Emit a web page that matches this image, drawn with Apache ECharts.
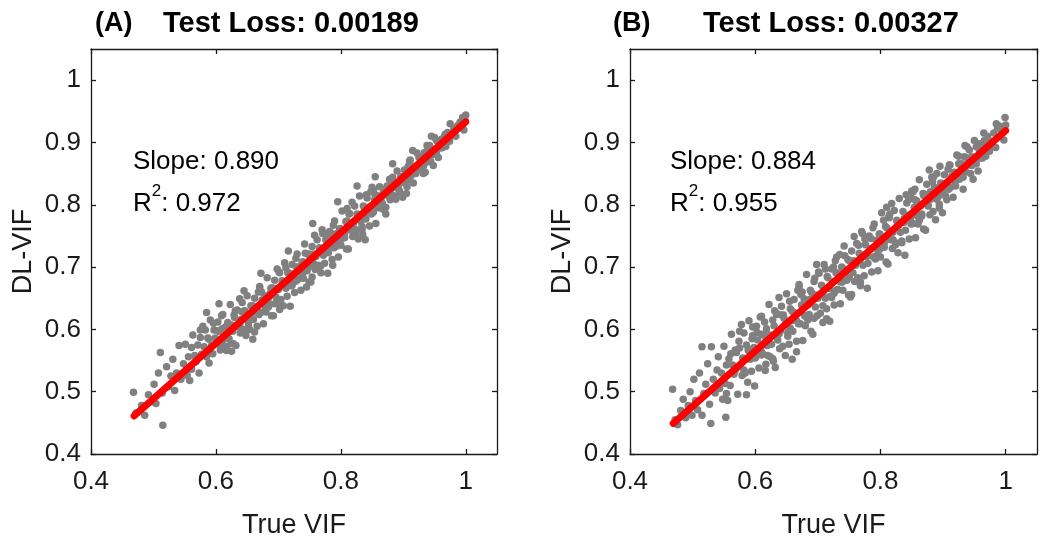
<!DOCTYPE html>
<html>
<head>
<meta charset="utf-8">
<script src="https://cdn.jsdelivr.net/npm/echarts@6/dist/echarts.min.js"></script>
<style>
html,body{margin:0;padding:0;background:#fff;}
#chart{width:1050px;height:544px;}
</style>
</head>
<body>
<div id="chart"></div>
<script>
// ---- Data ----
const panelLabels = ['(A)', '(B)'];
const testLoss = ['Test Loss: 0.00189', 'Test Loss: 0.00327'];
const slopes = ['0.890', '0.884'];
const rSquared = ['0.972', '0.955'];
const xTickValues = [0.4, 0.6, 0.8, 1];
const yTickValues = [0.4, 0.5, 0.6, 0.7, 0.8, 0.9, 1];

// Panel A: [True VIF, DL-VIF]
const scatterA = [
[0.468,0.499],[0.472,0.466],[0.481,0.478],[0.486,0.462],[0.492,0.495],[0.497,0.484],
[0.501,0.512],[0.504,0.481],[0.508,0.530],[0.511,0.563],[0.514,0.498],[0.515,0.446],
[0.521,0.540],[0.524,0.508],[0.528,0.525],[0.531,0.552],[0.534,0.502],[0.537,0.530],
[0.541,0.574],[0.544,0.520],[0.548,0.545],
[0.551,0.576],[0.553,0.536],[0.556,0.556],[0.558,0.518],
[0.561,0.536],[0.563,0.591],[0.566,0.558],[0.568,0.548],
[0.571,0.575],[0.573,0.530],[0.575,0.587],[0.577,0.560],[0.579,0.605],
[0.581,0.572],[0.583,0.599],[0.585,0.556],[0.587,0.586],[0.589,0.546],
[0.591,0.615],[0.593,0.574],[0.595,0.561],[0.597,0.599],[0.599,0.586],
[0.601,0.578],[0.603,0.612],[0.605,0.597],[0.607,0.567],[0.609,0.622],
[0.611,0.624],[0.613,0.584],[0.615,0.604],[0.617,0.566],[0.619,0.611],
[0.621,0.585],[0.623,0.640],[0.625,0.607],[0.627,0.597],[0.629,0.623],
[0.630,0.619],[0.632,0.574],[0.634,0.631],[0.636,0.604],[0.638,0.649],[0.639,0.594],
[0.640,0.616],[0.642,0.643],[0.644,0.600],[0.646,0.630],[0.648,0.590],[0.649,0.624],
[0.650,0.654],[0.652,0.613],[0.654,0.600],[0.656,0.638],[0.658,0.625],[0.659,0.584],
[0.660,0.616],[0.662,0.650],[0.664,0.635],[0.666,0.605],[0.668,0.660],[0.669,0.624],
[0.670,0.667],[0.672,0.627],[0.674,0.647],[0.676,0.609],[0.678,0.654],[0.679,0.636],
[0.680,0.628],[0.682,0.683],[0.684,0.650],[0.686,0.640],[0.688,0.666],[0.689,0.622],
[0.690,0.667],[0.692,0.622],[0.694,0.679],[0.696,0.652],[0.698,0.697],[0.699,0.642],
[0.700,0.664],[0.702,0.691],[0.704,0.648],[0.706,0.678],[0.708,0.638],[0.709,0.672],
[0.710,0.707],[0.712,0.666],[0.714,0.653],[0.716,0.691],[0.718,0.678],[0.719,0.637],
[0.720,0.670],[0.722,0.704],[0.724,0.689],[0.726,0.659],[0.728,0.714],[0.729,0.678],
[0.730,0.721],[0.732,0.681],[0.734,0.701],[0.736,0.663],[0.738,0.708],[0.739,0.690],
[0.740,0.682],[0.742,0.737],[0.744,0.704],[0.746,0.694],[0.748,0.720],[0.749,0.676],
[0.750,0.721],[0.752,0.676],[0.754,0.733],[0.756,0.706],[0.758,0.751],[0.759,0.696],
[0.760,0.717],[0.762,0.744],[0.764,0.701],[0.766,0.731],[0.768,0.691],[0.769,0.725],
[0.770,0.760],[0.772,0.719],[0.774,0.706],[0.776,0.744],[0.778,0.731],[0.779,0.690],
[0.780,0.723],[0.782,0.757],[0.784,0.742],[0.786,0.712],[0.788,0.767],[0.789,0.731],
[0.790,0.774],[0.792,0.734],[0.794,0.754],[0.796,0.716],[0.798,0.761],[0.799,0.743],
[0.800,0.735],[0.802,0.790],[0.804,0.757],[0.806,0.747],[0.808,0.773],[0.809,0.729],
[0.810,0.774],[0.812,0.729],[0.814,0.786],[0.816,0.759],[0.818,0.804],[0.819,0.749],
[0.820,0.771],[0.822,0.798],[0.824,0.755],[0.826,0.785],[0.828,0.745],[0.829,0.779],
[0.830,0.814],[0.832,0.773],[0.834,0.760],[0.836,0.798],[0.838,0.785],[0.839,0.744],
[0.840,0.777],[0.842,0.811],[0.844,0.796],[0.846,0.766],[0.848,0.821],[0.849,0.785],
[0.850,0.828],[0.852,0.788],[0.854,0.808],[0.856,0.770],[0.858,0.815],[0.859,0.797],
[0.860,0.796],[0.862,0.829],[0.864,0.809],[0.866,0.803],[0.868,0.819],[0.869,0.792],
[0.870,0.823],[0.872,0.796],[0.874,0.830],[0.876,0.814],[0.878,0.841],[0.879,0.808],
[0.880,0.825],[0.882,0.841],[0.884,0.815],[0.886,0.833],[0.888,0.809],[0.889,0.830],
[0.890,0.854],[0.892,0.830],[0.894,0.822],[0.896,0.845],[0.898,0.837],[0.899,0.812],
[0.900,0.836],[0.902,0.856],[0.904,0.847],[0.906,0.829],[0.908,0.862],[0.909,0.840],
[0.910,0.870],[0.912,0.846],[0.914,0.858],[0.916,0.835],[0.918,0.862],[0.919,0.851],
[0.920,0.850],[0.922,0.883],[0.924,0.863],[0.926,0.857],[0.928,0.873],
[0.930,0.877],[0.932,0.850],[0.934,0.884],[0.936,0.868],[0.938,0.895],
[0.940,0.879],[0.942,0.895],[0.944,0.869],[0.946,0.887],[0.948,0.863],
[0.950,0.908],[0.953,0.884],[0.956,0.876],[0.958,0.899],
[0.961,0.905],[0.963,0.892],[0.966,0.909],[0.968,0.894],
[0.971,0.916],[0.974,0.902],[0.977,0.912],
[0.981,0.922],[0.984,0.910],[0.987,0.927],
[0.991,0.933],[0.994,0.927],[0.997,0.920],
[1.000,0.944],[0.999,0.935],
[0.585,0.627],[0.605,0.641],[0.645,0.662],[0.672,0.690],[0.716,0.726],[0.755,0.770],
[0.795,0.805],[0.826,0.830],[0.855,0.845],[0.883,0.866],[0.915,0.887],[0.945,0.910],
[0.975,0.930],[0.995,0.940],[0.625,0.565],[0.662,0.596],[0.702,0.632],[0.745,0.668],
[0.787,0.703],[0.835,0.752],[0.872,0.785],[0.905,0.818],[0.935,0.852],
[0.603,0.598],[0.610,0.576],[0.617,0.596],[0.624,0.578],[0.631,0.630],[0.638,0.608],
[0.645,0.629],[0.652,0.608],[0.659,0.638],[0.666,0.630],[0.673,0.660],[0.680,0.638],
[0.687,0.658],[0.694,0.641],[0.701,0.692],[0.708,0.670],[0.715,0.691],[0.722,0.671],
[0.729,0.700],[0.736,0.692],[0.743,0.722],[0.750,0.701],[0.757,0.721],[0.764,0.703],
[0.771,0.754],[0.778,0.732],[0.785,0.754],[0.792,0.733],[0.799,0.762],[0.806,0.754],
[0.813,0.785],[0.820,0.763],[0.827,0.783],[0.834,0.765],[0.841,0.816],[0.848,0.795],
[0.855,0.816],[0.862,0.795],[0.869,0.824],[0.876,0.817],[0.883,0.844],[0.890,0.827],
[0.897,0.845],[0.904,0.834],[0.911,0.872],[0.918,0.857],[0.925,0.876],[0.932,0.862],
[0.939,0.887],[0.946,0.880],[0.953,0.903],[0.960,0.891],[0.967,0.913],[0.974,0.906],
[0.554,0.526],[0.561,0.571],[0.568,0.555],[0.575,0.599],[0.582,0.560],[0.589,0.584],
[0.596,0.610],[0.603,0.577],[0.610,0.601],[0.617,0.572],[0.628,0.577],[0.642,0.628],
[0.656,0.619],[0.670,0.669],[0.684,0.636],[0.698,0.666],[0.712,0.699],[0.726,0.677],
[0.740,0.708],[0.754,0.684],[0.768,0.702],[0.782,0.753],[0.796,0.743],[0.810,0.794],
[0.824,0.760],[0.838,0.791],[0.852,0.823],[0.866,0.802],[0.880,0.832],[0.894,0.819]
];

// Panel B: [True VIF, DL-VIF]
const scatterB = [
[0.468,0.504],[0.472,0.455],[0.476,0.447],[0.481,0.470],[0.485,0.488],[0.489,0.458],
[0.493,0.478],[0.496,0.500],[0.499,0.462],[0.502,0.520],[0.505,0.486],[0.508,0.471],
[0.511,0.530],[0.515,0.572],[0.515,0.462],[0.518,0.497],
[0.521,0.512],[0.524,0.545],[0.527,0.480],[0.529,0.449],
[0.530,0.572],[0.533,0.520],[0.536,0.498],[0.539,0.535],
[0.541,0.556],[0.543,0.505],[0.546,0.530],[0.548,0.488],
[0.550,0.573],[0.552,0.513],[0.554,0.543],[0.556,0.486],[0.558,0.553],[0.553,0.459],
[0.560,0.510],[0.562,0.592],[0.564,0.543],[0.566,0.528],[0.568,0.567],
[0.570,0.563],[0.572,0.496],[0.574,0.581],[0.576,0.540],[0.578,0.608],[0.579,0.526],
[0.580,0.554],[0.582,0.594],[0.584,0.530],[0.586,0.575],[0.588,0.515],[0.589,0.566],[0.586,0.495],
[0.590,0.614],[0.592,0.552],[0.594,0.533],[0.596,0.590],[0.598,0.571],[0.599,0.509],
[0.600,0.554],[0.602,0.605],[0.604,0.583],[0.606,0.538],[0.608,0.620],[0.609,0.566],
[0.610,0.621],[0.612,0.561],[0.614,0.591],[0.616,0.534],[0.618,0.601],[0.619,0.574],
[0.620,0.558],[0.622,0.640],[0.624,0.591],[0.626,0.576],[0.628,0.615],[0.629,0.549],
[0.630,0.606],[0.632,0.539],[0.634,0.624],[0.636,0.583],[0.638,0.651],[0.639,0.569],
[0.640,0.597],[0.642,0.637],[0.644,0.573],[0.646,0.618],[0.648,0.558],[0.649,0.609],
[0.650,0.657],[0.652,0.595],[0.654,0.576],[0.656,0.633],[0.658,0.614],[0.659,0.552],
[0.660,0.597],[0.662,0.648],[0.664,0.626],[0.666,0.581],[0.668,0.663],[0.669,0.609],[0.666,0.564],
[0.670,0.669],[0.672,0.609],[0.674,0.639],[0.676,0.582],[0.678,0.649],[0.679,0.622],
[0.680,0.606],[0.682,0.688],[0.684,0.639],[0.686,0.624],[0.688,0.663],[0.689,0.597],
[0.690,0.659],[0.692,0.592],[0.694,0.677],[0.696,0.636],[0.698,0.704],[0.699,0.622],
[0.700,0.650],[0.702,0.690],[0.704,0.626],[0.706,0.671],[0.708,0.611],[0.709,0.662],[0.708,0.638],
[0.710,0.704],[0.712,0.650],[0.714,0.633],[0.716,0.683],[0.718,0.666],[0.719,0.613],[0.714,0.617],
[0.720,0.653],[0.722,0.697],[0.724,0.677],[0.726,0.639],[0.728,0.710],[0.729,0.663],
[0.730,0.716],[0.732,0.664],[0.734,0.690],[0.736,0.641],[0.738,0.700],[0.739,0.676],
[0.740,0.663],[0.742,0.734],[0.744,0.692],[0.746,0.679],[0.748,0.712],[0.749,0.655],
[0.750,0.710],[0.752,0.652],[0.754,0.726],[0.756,0.691],[0.758,0.749],[0.759,0.677],
[0.760,0.703],[0.762,0.738],[0.764,0.683],[0.766,0.722],[0.768,0.670],[0.769,0.714],
[0.770,0.757],[0.772,0.703],[0.774,0.686],[0.776,0.736],[0.778,0.719],[0.779,0.666],
[0.780,0.706],[0.782,0.750],[0.784,0.730],[0.786,0.692],[0.788,0.763],[0.789,0.716],
[0.790,0.769],[0.792,0.717],[0.794,0.743],[0.796,0.694],[0.798,0.753],[0.799,0.729],
[0.800,0.716],[0.802,0.787],[0.804,0.745],[0.806,0.732],[0.808,0.765],[0.809,0.708],
[0.810,0.763],[0.812,0.705],[0.814,0.779],[0.816,0.744],[0.818,0.802],[0.819,0.730],
[0.820,0.756],[0.822,0.791],[0.824,0.736],[0.826,0.775],[0.828,0.723],[0.829,0.767],
[0.830,0.810],[0.832,0.756],[0.834,0.739],[0.836,0.789],[0.838,0.772],[0.839,0.719],
[0.840,0.759],[0.842,0.803],[0.844,0.783],[0.846,0.745],[0.848,0.816],[0.849,0.769],
[0.850,0.822],[0.852,0.770],[0.854,0.796],[0.856,0.747],[0.858,0.806],[0.859,0.782],
[0.860,0.769],[0.862,0.840],[0.864,0.798],[0.866,0.785],[0.868,0.818],[0.869,0.761],
[0.870,0.817],[0.872,0.759],[0.874,0.833],[0.876,0.798],[0.878,0.856],[0.879,0.784],
[0.880,0.809],[0.882,0.844],[0.884,0.789],[0.886,0.828],[0.888,0.776],[0.889,0.820],
[0.890,0.850],[0.892,0.813],[0.894,0.801],[0.896,0.835],[0.898,0.824],[0.899,0.787],
[0.900,0.817],[0.902,0.848],[0.904,0.834],[0.906,0.808],[0.908,0.857],[0.909,0.825],
[0.910,0.864],[0.912,0.828],[0.914,0.846],[0.916,0.812],[0.918,0.852],[0.919,0.836],
[0.920,0.830],[0.922,0.880],[0.924,0.850],[0.926,0.841],[0.928,0.864],
[0.930,0.866],[0.932,0.825],[0.934,0.877],[0.936,0.853],[0.938,0.893],
[0.940,0.864],[0.942,0.888],[0.944,0.850],[0.946,0.877],[0.948,0.841],
[0.950,0.903],[0.953,0.866],[0.956,0.854],[0.958,0.888],
[0.961,0.898],[0.963,0.875],[0.966,0.903],[0.968,0.878],
[0.971,0.910],[0.974,0.886],[0.977,0.902],
[0.981,0.915],[0.984,0.892],[0.987,0.923],
[0.991,0.926],[0.994,0.915],[0.997,0.904],
[0.999,0.940],[1.000,0.928],
[0.575,0.570],[0.615,0.612],[0.655,0.645],[0.695,0.682],[0.735,0.720],[0.775,0.745],
[0.815,0.785],[0.855,0.825],[0.895,0.862],[0.935,0.895],[0.965,0.915],[0.985,0.930],
[0.595,0.585],[0.635,0.625],[0.675,0.660],[0.725,0.700],[0.765,0.735],[0.805,0.775],
[0.845,0.808],[0.885,0.845],[0.925,0.878],[0.955,0.898],
[0.603,0.595],[0.610,0.559],[0.617,0.586],[0.624,0.556],[0.631,0.630],[0.638,0.593],
[0.645,0.623],[0.652,0.589],[0.659,0.629],[0.666,0.614],[0.673,0.656],[0.680,0.621],
[0.687,0.648],[0.694,0.618],[0.701,0.692],[0.708,0.655],[0.715,0.685],[0.722,0.651],
[0.729,0.691],[0.736,0.676],[0.743,0.718],[0.750,0.683],[0.757,0.710],[0.764,0.680],
[0.771,0.754],[0.778,0.717],[0.785,0.746],[0.792,0.713],[0.799,0.753],[0.806,0.738],
[0.813,0.780],[0.820,0.744],[0.827,0.772],[0.834,0.742],[0.841,0.816],[0.848,0.779],
[0.855,0.808],[0.862,0.775],[0.869,0.815],[0.876,0.800],[0.883,0.837],[0.890,0.809],
[0.897,0.832],[0.904,0.814],[0.911,0.864],[0.918,0.842],[0.925,0.866],[0.932,0.844],
[0.939,0.875],[0.946,0.863],[0.953,0.893],[0.960,0.875],[0.967,0.901],[0.974,0.890],
[0.554,0.497],[0.561,0.561],[0.568,0.534],[0.575,0.597],[0.582,0.535],[0.589,0.568],
[0.596,0.604],[0.603,0.559],[0.610,0.592],[0.617,0.544],[0.628,0.553],[0.642,0.623],
[0.656,0.602],[0.670,0.672],[0.684,0.615],[0.698,0.655],[0.712,0.697],[0.726,0.658],
[0.740,0.698],[0.754,0.656],[0.768,0.676],[0.782,0.747],[0.796,0.726],[0.810,0.796],
[0.824,0.739],[0.838,0.778],[0.852,0.821],[0.866,0.782],[0.880,0.821],[0.894,0.795]
];

// Fitted regression lines (end points)
const fitA = [[0.469,0.461],[1.000,0.933]];
const fitB = [[0.469,0.449],[1.000,0.919]];

// ---- Chart ----
const FONT = "'Liberation Sans', Arial, sans-serif";
const AX = '#1a1a1a';
const fmt = v => String(+(+v).toFixed(2));

const grids = [
  {left: 91, top: 49, width: 406, height: 407},
  {left: 630, top: 49, width: 407, height: 407}
];

function xAx(gi, pos) {
  const main = pos === 'bottom';
  return {
    type: 'value', gridIndex: gi, position: pos, min: 0.4, max: 1.05, interval: 0.2,
    name: main ? 'True VIF' : '', nameLocation: 'middle', nameGap: 58,
    nameTextStyle: {fontFamily: FONT, fontSize: 27, color: AX},
    axisLine: {show: true, onZero: false, lineStyle: {color: AX, width: 1.3}},
    axisTick: {show: true, inside: true, length: 5, lineStyle: {color: AX, width: 1.3}},
    axisLabel: {show: main, margin: 15, fontFamily: FONT, fontSize: 26, color: AX, formatter: fmt,
                showMaxLabel: false},
    splitLine: {show: false}
  };
}
function yAx(gi, pos) {
  const main = pos === 'left';
  return {
    type: 'value', gridIndex: gi, position: pos, min: 0.4, max: 1.05, interval: 0.1,
    name: main ? 'DL-VIF' : '', nameLocation: 'middle', nameGap: 54, nameRotate: 90,
    nameTextStyle: {fontFamily: FONT, fontSize: 27, color: AX},
    axisLine: {show: true, onZero: false, lineStyle: {color: AX, width: 1.3}},
    axisTick: {show: true, inside: true, length: 5, lineStyle: {color: AX, width: 1.3}},
    axisLabel: {show: main, margin: 10, fontFamily: FONT, fontSize: 26, color: AX, formatter: fmt,
                showMaxLabel: false},
    splitLine: {show: false}
  };
}

function scatterSeries(data, xi, yi) {
  return {
    type: 'scatter', xAxisIndex: xi, yAxisIndex: yi, data: data,
    symbol: 'circle', symbolSize: 7.5, silent: true,
    itemStyle: {color: '#808080', opacity: 1}, z: 2
  };
}
function fitSeries(data, xi, yi) {
  return {
    type: 'line', xAxisIndex: xi, yAxisIndex: yi, data: data,
    showSymbol: false, silent: true,
    lineStyle: {color: '#ff0000', width: 7, cap: 'round'}, z: 3
  };
}

function textEl(x, y, text, size, bold) {
  return {
    type: 'text', x: x, y: y, silent: true,
    style: {text: text, fontFamily: FONT, fontSize: size, fontWeight: bold ? 'bold' : 'normal',
            fill: '#000', verticalAlign: 'middle', align: 'left'}
  };
}
function r2El(x, y, val) {
  return {
    type: 'text', x: x, y: y, silent: true,
    style: {
      text: '{a|R}{b|2}{a|: ' + val + '}',
      fontFamily: FONT, fill: '#000', verticalAlign: 'middle', align: 'left',
      rich: {
        a: {fontFamily: FONT, fontSize: 26, color: '#000', lineHeight: 34, verticalAlign: 'bottom'},
        b: {fontFamily: FONT, fontSize: 17, color: '#000', lineHeight: 34, verticalAlign: 'top'}
      }
    }
  };
}

const option = {
  backgroundColor: '#fff',
  animation: false,
  grid: grids,
  xAxis: [xAx(0, 'bottom'), xAx(0, 'top'), xAx(1, 'bottom'), xAx(1, 'top')],
  yAxis: [yAx(0, 'left'), yAx(0, 'right'), yAx(1, 'left'), yAx(1, 'right')],
  series: [
    scatterSeries(scatterA, 0, 0),
    fitSeries(fitA, 0, 0),
    scatterSeries(scatterB, 2, 2),
    fitSeries(fitB, 2, 2)
  ],
  graphic: [
    textEl(95, 24, panelLabels[0], 27, true),
    textEl(163, 24, testLoss[0], 29, true),
    textEl(613, 24, panelLabels[1], 27, true),
    textEl(703, 24, testLoss[1], 29, true),
    textEl(133, 162, 'Slope: ' + slopes[0], 26, false),
    r2El(133, 200, rSquared[0]),
    textEl(670, 162, 'Slope: ' + slopes[1], 26, false),
    r2El(670, 200, rSquared[1])
  ]
};

const chart = echarts.init(document.getElementById('chart'), null, {renderer: 'canvas'});
chart.setOption(option);
</script>
</body>
</html>
